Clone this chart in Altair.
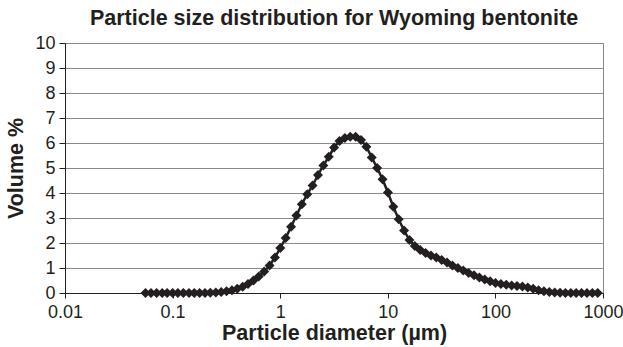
import altair as alt
import pandas as pd

# Laser-diffraction size classes (µm) and volume percentages
diameter_um = [
    0.056, 0.063, 0.071, 0.080, 0.089, 0.100, 0.112, 0.126, 0.142, 0.159,
    0.178, 0.200, 0.224, 0.252, 0.283, 0.317, 0.356, 0.399, 0.448, 0.502,
    0.564, 0.632, 0.710, 0.796, 0.893, 1.002, 1.125, 1.262, 1.416, 1.589,
    1.783, 2.000, 2.244, 2.518, 2.825, 3.170, 3.557, 3.991, 4.477, 5.024,
    5.637, 6.325, 7.096, 7.962, 8.934, 10.024, 11.247, 12.619, 14.159, 15.887,
    17.825, 20.000, 22.440, 25.179, 28.251, 31.698, 35.566, 39.905, 44.774, 50.238,
    56.368, 63.246, 70.963, 79.621, 89.337, 100.237, 112.468, 126.191, 141.589, 158.866,
    178.250, 200.000, 224.404, 251.785, 282.508, 316.979, 355.656, 399.052, 447.744, 502.377,
    563.677, 632.456, 709.627, 796.214, 893.367,
]
volume_pct = [
    0.00, 0.00, 0.00, 0.00, 0.00, 0.00, 0.00, 0.00, 0.00, 0.00,
    0.00, 0.00, 0.01, 0.02, 0.04, 0.07, 0.11, 0.17, 0.25, 0.36,
    0.50, 0.66, 0.86, 1.10, 1.42, 1.80, 2.20, 2.65, 3.10, 3.55,
    3.95, 4.30, 4.72, 5.10, 5.45, 5.82, 6.08, 6.20, 6.25, 6.25,
    6.12, 5.85, 5.42, 5.00, 4.55, 4.02, 3.45, 2.95, 2.50, 2.12,
    1.88, 1.72, 1.60, 1.50, 1.42, 1.32, 1.22, 1.10, 1.00, 0.90,
    0.80, 0.71, 0.62, 0.54, 0.47, 0.40, 0.36, 0.33, 0.30, 0.28,
    0.26, 0.22, 0.17, 0.11, 0.07, 0.04, 0.02, 0.01, 0.00, 0.00,
    0.00, 0.00, 0.00, 0.00, 0.00,
]

x_ticks = [0.01, 0.1, 1, 10, 100, 1000]
y_ticks = list(range(0, 11))

df = pd.DataFrame({"d": diameter_um, "v": volume_pct})

FONT = "Liberation Sans"
INK = "#231f20"

x_enc = alt.X(
    "d:Q",
    scale=alt.Scale(type="log", domain=[0.01, 1000]),
    axis=alt.Axis(
        title="Particle diameter (µm)",
        values=x_ticks,
        format="~g",
        grid=False,
        labelFlush=False,
        labelOverlap=False,
        tickSize=5,
        labelPadding=5,
        titlePadding=1,
    ),
)
y_enc = alt.Y(
    "v:Q",
    scale=alt.Scale(domain=[0, 10], nice=False),
    axis=alt.Axis(
        title="Volume %",
        values=y_ticks,
        grid=True,
        gridColor="#8a8a8a",
        gridWidth=1,
        tickSize=6,
        labelPadding=4,
        titlePadding=7,
    ),
)

base = alt.Chart(df).encode(x=x_enc, y=y_enc)

line = base.mark_line(color=INK, strokeWidth=2.5)
points = base.mark_point(
    shape="diamond", filled=True, size=100, color=INK, opacity=1
)

chart = (
    alt.layer(line, points)
    .properties(
        width=538,
        height=250,
        title=alt.TitleParams(
            "Particle size distribution for Wyoming bentonite",
            font=FONT,
            fontSize=21.5,
            fontWeight="bold",
            color=INK,
            anchor="middle",
            offset=5,
        ),
        autosize=alt.AutoSizeParams(type="none"),
        padding={"left": 65, "top": 43, "right": 20, "bottom": 54},
    )
    .configure(background="white")
    .configure_view(stroke="#8a8a8a", strokeWidth=1)
    .configure_axis(
        labelFont=FONT,
        labelFontSize=18,
        labelColor=INK,
        titleFont=FONT,
        titleFontSize=21.5,
        titleFontWeight="bold",
        titleColor=INK,
        domainColor=INK,
        domainWidth=1,
        tickColor=INK,
        tickWidth=1,
    )
)

chart.save("out.html", embed_options={"renderer": "svg", "actions": False})
